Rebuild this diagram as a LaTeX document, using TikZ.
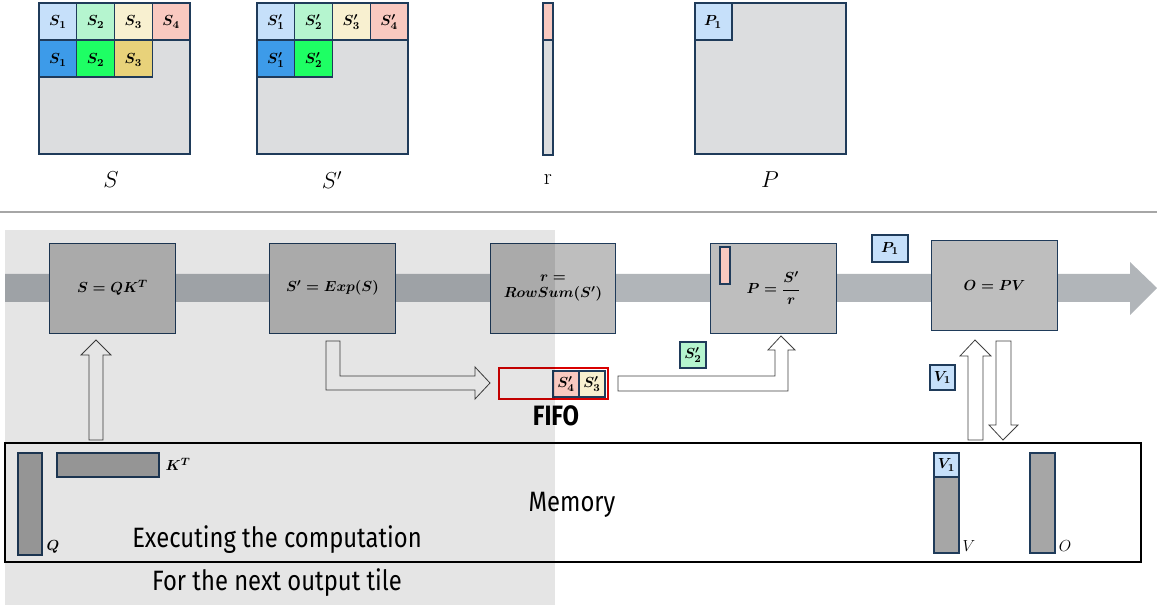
\documentclass[tikz,border=0pt]{standalone}
\usepackage{amsmath,bm}
\usepackage{fontspec}
\setsansfont{Fira Sans}
\begin{document}
\begin{tikzpicture}[x=0.75pt,y=-0.75pt,
  tile/.style={draw=navy,line width=0.8pt},
  box/.style={draw=navy,fill=boxg,line width=0.7pt},
  mt/.style={font=\fontsize{11}{13}\selectfont\boldmath},
  hollow/.style={draw=black!75,fill=white,line width=0.6pt},
  big/.style={font=\sffamily\fontsize{21}{24}\selectfont}]
\definecolor{navy}{HTML}{1F3B5A}
\definecolor{lb}{HTML}{C6E0FA}\definecolor{lg}{HTML}{B5F5CF}
\definecolor{cr}{HTML}{F8F0D0}\definecolor{pk}{HTML}{F9C9C0}
\definecolor{db}{HTML}{3D9BE9}\definecolor{dg}{HTML}{1EFF64}
\definecolor{gd}{HTML}{E8D27A}\definecolor{mg}{HTML}{DCDDDF}
\definecolor{boxg}{HTML}{BEBEBE}\definecolor{band}{HTML}{B1B5B9}
\definecolor{bar}{HTML}{A6A6A6}
\useasboundingbox (0,0) rectangle (1157,605);
% ---- top matrices
\draw[tile,fill=mg] (39,3) rectangle (190,154);
\foreach \i/\c in {0/lb,1/lg,2/cr,3/pk}{\draw[tile,fill=\c] ({39+\i*37.75},3) rectangle ({39+(\i+1)*37.75},40);}
\foreach \i/\c in {0/db,1/dg,2/gd}{\draw[tile,fill=\c] ({39+\i*37.75},40) rectangle ({39+(\i+1)*37.75},77);}
\foreach \i in {1,2,3,4}{\node[mt] at ({39+(\i-0.5)*37.75},22) {$S_{\i}$};}
\foreach \i in {1,2,3}{\node[mt] at ({39+(\i-0.5)*37.75},60) {$S_{\i}$};}
\draw[tile,fill=mg] (257,3) rectangle (408,154);
\foreach \i/\c in {0/lb,1/lg,2/cr,3/pk}{\draw[tile,fill=\c] ({257+\i*37.75},3) rectangle ({257+(\i+1)*37.75},40);}
\foreach \i/\c in {0/db,1/dg}{\draw[tile,fill=\c] ({257+\i*37.75},40) rectangle ({257+(\i+1)*37.75},77);}
\foreach \i in {1,2,3,4}{\node[mt] at ({257+(\i-0.5)*37.75},22) {$S'_{\i}$};}
\foreach \i in {1,2}{\node[mt] at ({257+(\i-0.5)*37.75},60) {$S'_{\i}$};}
\draw[tile,fill=mg] (543,3) rectangle (553,155);
\draw[tile,fill=pk] (543,3) rectangle (553,40);
\draw[tile,fill=mg] (695,3) rectangle (846,154);
\draw[tile,fill=lb] (695,3) rectangle (732,40);
\node[mt] at (713,22) {$P_1$};
\node[font=\fontsize{17}{20}\selectfont] (lS) at (111,180) {$S$};
\node[font=\fontsize{17}{20}\selectfont] (lSp) at (332,180) {$S'$};
\node[font=\fontsize{17}{20}\selectfont] (lr) at (548,180) {r};
\node[font=\fontsize{17}{20}\selectfont] (lP) at (770,180) {$P$};
\draw[black!35,line width=1pt] (0,212) -- (1157,212);
% ---- band arrow
\fill[band] (5,274) -- (1130,274) -- (1130,262) -- (1157,288) -- (1130,315) -- (1130,302) -- (5,302) -- cycle;
% boxes
\node[box,minimum width=94pt,minimum height=67.5pt,mt] (b1) at (112.5,288) {$S=QK^T$};
\node[box,minimum width=94pt,minimum height=67.5pt,mt] (b2) at (332.5,288) {$S'=Exp(S)$};
\node[box,minimum width=94pt,minimum height=67.5pt,mt,align=center] (b3) at (553,288) {$r=$\\[-1pt]$RowSum(S')$};
\node[box,minimum width=94pt,minimum height=67.5pt,mt] (b4) at (773.5,288) {$P=\dfrac{S'}{r}$};
\draw[tile,fill=pk] (720,247) rectangle (730,284);
\node[box,minimum width=94pt,minimum height=67.5pt,mt] (b5) at (994.5,285.5) {$O=PV$};
\draw[tile,fill=lb] (872,235) rectangle (908,262); \node[mt] at (890,248.5) {$P_1$};
% memory
\draw[black,line width=0.8pt] (5,443) rectangle (1141,562);
\node[font=\sffamily\fontsize{21}{24}\selectfont] (mem) at (572,505) {\scalebox{0.85}[1]{Memory}};
\draw[tile,fill=bar] (18,453) rectangle (42,555); \node[mt] at (53,547) {$Q$};
\draw[tile,fill=bar] (57,453) rectangle (159,477); \node[mt] at (178,464) {$K^T$};
\draw[tile,fill=bar] (934,453) rectangle (959,553);
\draw[tile,fill=lb] (934,453) rectangle (959,477); \node[mt] at (946.5,465) {$V_1$};
\node[font=\fontsize{12}{14}\selectfont] at (969,546) {$V$};
\draw[tile,fill=bar] (1030,453) rectangle (1055,553);
\node[font=\fontsize{12}{14}\selectfont] at (1065,546) {$O$};
% hollow arrows
\draw[hollow] (89,440) -- (89,355) -- (81,355) -- (96,340) -- (111,355) -- (103,355) -- (103,440) -- cycle;
\draw[hollow] (326,341) -- (340,341) -- (340,376) -- (475,376) -- (475,367) -- (490,383) -- (475,399) -- (475,390) -- (326,390) -- cycle;
\draw[hollow] (618,376) -- (775,376) -- (775,350) -- (768,350) -- (781,336) -- (795,350) -- (788,350) -- (788,391) -- (618,391) -- cycle;
\draw[hollow] (968,440) -- (968,356) -- (960,356) -- (975,340) -- (991,356) -- (983,356) -- (983,440) -- cycle;
\draw[hollow] (996,341) -- (1011,341) -- (1011,425) -- (1018,425) -- (1003,440) -- (989,425) -- (996,425) -- cycle;
% FIFO
\draw[red!85!black,line width=1.6pt,fill=white] (499,368) rectangle (608,399);
\draw[tile,fill=pk] (553,371) rectangle (579,397); \node[mt] at (566,384) {$S'_4$};
\draw[tile,fill=cr] (579,371) rectangle (605,397); \node[mt] at (592,384) {$S'_3$};
\node[font=\sffamily\bfseries\fontsize{21}{24}\selectfont] (fifo) at (556,416) {\scalebox{0.85}[1]{FIFO}};
\draw[tile,fill=lg] (680,342) rectangle (706,368); \node[mt] at (693,355) {$S'_2$};
\draw[tile,fill=lb] (930,365) rectangle (955,390); \node[mt] at (942.5,377.5) {$V_1$};
% overlay
\fill[black,opacity=0.1] (5,230) rectangle (555,605);
\node[big] (t1) at (277,540) {\scalebox{0.85}[1]{Executing the computation}};
\node[big] (t2) at (277,583) {\scalebox{0.85}[1]{For the next output tile}};
\end{tikzpicture}
\end{document}
